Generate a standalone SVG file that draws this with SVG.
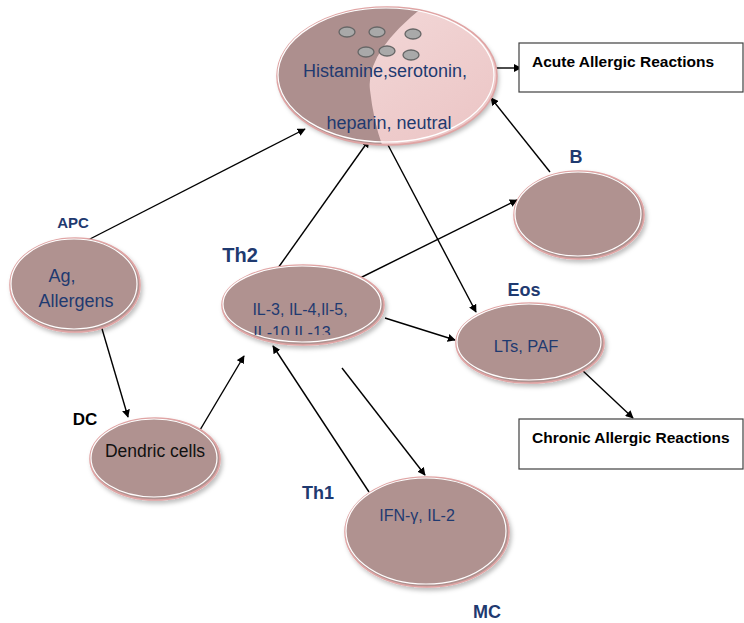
<svg xmlns="http://www.w3.org/2000/svg" width="744" height="623" viewBox="0 0 744 623">
<style>
.cell{fill:#b09290;stroke:#e0a4a4;stroke-width:1.6}
.hl{fill:none;stroke:#ffffff;stroke-width:1.2}
.t{font-family:"Liberation Sans",Arial,sans-serif;fill:#1f3a70;text-anchor:middle}
.lbl{font-family:"Liberation Sans",Arial,sans-serif;fill:#1f3a70;font-weight:bold;text-anchor:middle}
.box{fill:#ffffff;stroke:#404040;stroke-width:1.2}
.bt{font-family:"Liberation Sans",Arial,sans-serif;fill:#000;font-size:15.5px;font-weight:bold}
.c{stroke:#000;stroke-width:1.4;fill:none;marker-end:url(#ah)}
.ves{fill:#a9a9a9;stroke:#666;stroke-width:1.3}
</style>
<defs>
<marker id="ah" viewBox="0 0 10 10" refX="9" refY="5" markerWidth="8" markerHeight="8" markerUnits="userSpaceOnUse" orient="auto">
<path d="M0,0 L10,5 L0,10 z" fill="#000"/>
</marker>
<filter id="sh" x="-10%" y="-10%" width="125%" height="130%">
<feDropShadow dx="2" dy="3" stdDeviation="2" flood-color="#000" flood-opacity="0.25"/>
</filter>
<linearGradient id="lightg" x1="0" y1="0" x2="1" y2="1">
<stop offset="0" stop-color="#f4dcdc"/>
<stop offset="1" stop-color="#ebc4c4"/>
</linearGradient>
<clipPath id="topclip"><ellipse cx="387" cy="76" rx="110" ry="69"/></clipPath>
<clipPath id="th2cut"><rect x="222" y="265" width="163" height="70"/></clipPath>
</defs>

<g id="connectors">
<line class="c" x1="88" y1="240" x2="305" y2="129"/>
<line class="c" x1="100" y1="322" x2="128" y2="417"/>
<line class="c" x1="200" y1="430" x2="244" y2="356"/>
<line class="c" x1="278" y1="268" x2="369" y2="140"/>
<line class="c" x1="388" y1="145" x2="476" y2="312"/>
<line class="c" x1="356" y1="280" x2="517" y2="200"/>
<line class="c" x1="385" y1="318" x2="455" y2="340"/>
<line class="c" x1="550" y1="172" x2="491" y2="98"/>
<line class="c" x1="491" y1="68" x2="521" y2="68"/>
<line class="c" x1="582" y1="370" x2="633" y2="418"/>
<line class="c" x1="342" y1="368" x2="425" y2="475"/>
<line class="c" x1="369" y1="492" x2="273" y2="346"/>
</g>

<g id="mast">
<ellipse cx="387" cy="76" rx="110" ry="69" fill="url(#lightg)" filter="url(#sh)"/>
<path clip-path="url(#topclip)" d="M270,0 L432,0 Q365,50 370,90 Q374,125 384,150 L270,150 z" fill="#ad8f8e"/>
<ellipse cx="387" cy="76" rx="110" ry="69" fill="none" stroke="#e0a4a4" stroke-width="1.6"/>
<ellipse cx="386" cy="75" rx="108" ry="67" class="hl"/>
<ellipse class="ves" cx="347" cy="32" rx="8" ry="5"/>
<ellipse class="ves" cx="377" cy="32" rx="8" ry="5"/>
<ellipse class="ves" cx="413" cy="34" rx="8" ry="5"/>
<ellipse class="ves" cx="366" cy="52" rx="8" ry="5"/>
<ellipse class="ves" cx="387" cy="51" rx="8" ry="5"/>
<ellipse class="ves" cx="411" cy="55" rx="8" ry="5"/>
<text class="t" x="385" y="77" font-size="18">Histamine,serotonin,</text>
<text class="t" x="389" y="129" font-size="18">heparin, neutral</text>
</g>

<g id="apc">
<ellipse class="cell" cx="75" cy="285" rx="65" ry="47" filter="url(#sh)"/>
<ellipse class="hl" cx="74" cy="284" rx="63" ry="45"/>
<text class="t" x="62" y="282" font-size="18">Ag,</text>
<text class="t" x="76" y="307" font-size="18">Allergens</text>
<text class="lbl" x="73" y="228" font-size="15">APC</text>
</g>

<g id="dc">
<ellipse class="cell" cx="155" cy="459" rx="65" ry="41" filter="url(#sh)"/>
<ellipse class="hl" cx="154" cy="458" rx="63" ry="39"/>
<text class="t" x="155" y="457" style="fill:#111" font-size="17.5">Dendric cells</text>
<text class="lbl" x="85" y="425" style="fill:#000" font-size="17">DC</text>
</g>

<g id="th2">
<ellipse class="cell" cx="303" cy="305" rx="81" ry="40" filter="url(#sh)"/>
<ellipse class="hl" cx="302" cy="304" rx="79" ry="38"/>
<text class="t" x="300" y="315" font-size="16">IL-3, IL-4,Il-5,</text>
<text class="t" x="292" y="338" font-size="16" clip-path="url(#th2cut)">IL-10,IL-13</text>
<text class="lbl" x="240" y="262" font-size="20">Th2</text>
</g>

<g id="b">
<ellipse class="cell" cx="579" cy="215" rx="65" ry="44" filter="url(#sh)"/>
<ellipse class="hl" cx="578" cy="214" rx="63" ry="42"/>
<text class="lbl" x="576" y="163" font-size="18">B</text>
</g>

<g id="eos">
<ellipse class="cell" cx="530" cy="343" rx="74" ry="40" filter="url(#sh)"/>
<ellipse class="hl" cx="529" cy="342" rx="72" ry="38"/>
<text class="t" x="526" y="352" font-size="16.5">LTs, PAF</text>
<text class="lbl" x="524" y="296" font-size="18">Eos</text>
</g>

<g id="mc">
<ellipse class="cell" cx="427" cy="532" rx="82" ry="55" filter="url(#sh)"/>
<ellipse class="hl" cx="426" cy="531" rx="80" ry="53"/>
<text class="t" x="417" y="521" font-size="16">IFN-γ, IL-2</text>
<text class="lbl" x="318" y="499" font-size="18">Th1</text>
<text class="lbl" x="487" y="618" font-size="18">MC</text>
</g>

<g id="acute">
<rect class="box" x="519" y="43" width="224" height="49"/>
<text class="bt" x="532" y="67">Acute Allergic Reactions</text>
</g>

<g id="chronic">
<rect class="box" x="519" y="419" width="224" height="50"/>
<text class="bt" x="532" y="443">Chronic Allergic Reactions</text>
</g>
</svg>
